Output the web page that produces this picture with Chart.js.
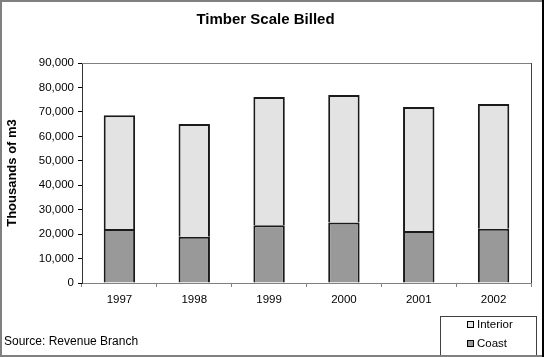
<!DOCTYPE html>
<html>
<head>
<meta charset="utf-8">
<script src="https://cdn.jsdelivr.net/npm/chart.js@4/dist/chart.umd.min.js"></script>
<style>
html,body{margin:0;padding:0;background:#fff;}
#wrap{width:544px;height:357px;position:relative;}
</style>
</head>
<body>
<div id="wrap"><canvas id="c" width="544" height="357"></canvas></div>
<script>
const years = ['1997','1998','1999','2000','2001','2002'];
const coast = [22100, 18900, 23600, 24800, 21300, 22200];
const interiorTotals = [68600, 65000, 76100, 76900, 72000, 73200];
const interior = interiorTotals.map((t, i) => t - coast[i]);
const chartTitle = 'Timber Scale Billed';
const yTitle = 'Thousands of m3';
const sourceNote = 'Source: Revenue Branch';

const FONT = '"Liberation Sans", Arial, sans-serif';

const decor = {
  id: 'decor',
  beforeDraw(chart) {
    const ctx = chart.ctx;
    ctx.save();
    ctx.fillStyle = '#fff';
    ctx.fillRect(0, 0, chart.width, chart.height);
    ctx.restore();
  },
  afterDraw(chart) {
    const ctx = chart.ctx;
    const a = chart.chartArea;
    ctx.save();
    // plot area top and right border
    ctx.lineWidth = 1;
    ctx.strokeStyle = '#808080';
    ctx.beginPath();
    ctx.moveTo(a.left, a.top + 0.5);
    ctx.lineTo(a.right, a.top + 0.5);
    ctx.stroke();
    ctx.strokeStyle = '#404040';
    ctx.beginPath();
    ctx.moveTo(a.right + 0.5, a.top);
    ctx.lineTo(a.right + 0.5, a.bottom);
    ctx.stroke();
    // source note
    ctx.fillStyle = '#000';
    ctx.font = '12px ' + FONT;
    ctx.textBaseline = 'middle';
    ctx.textAlign = 'left';
    ctx.fillText(sourceNote, 4, 342);
    // legend box
    ctx.fillStyle = '#fff';
    ctx.fillRect(440.5, 316.5, 96, 45);
    ctx.strokeStyle = '#404040';
    ctx.lineWidth = 1;
    ctx.strokeRect(440.5, 316.5, 96, 45);
    const items = chart.data.datasets.slice().reverse();
    items.forEach((ds, i) => {
      const y = 324.5 + i * 19;
      ctx.fillStyle = ds.backgroundColor;
      ctx.fillRect(467, y - 3.5, 7, 7);
      ctx.strokeStyle = '#000';
      ctx.strokeRect(467.5, y - 3, 6, 6);
      ctx.fillStyle = '#000';
      ctx.font = '11.5px ' + FONT;
      ctx.textAlign = 'left';
      ctx.textBaseline = 'middle';
      ctx.fillText(ds.label, 477, y);
    });
    // outer frame
    ctx.lineWidth = 2;
    ctx.strokeStyle = '#808080';
    ctx.beginPath();
    ctx.moveTo(543, 1); ctx.lineTo(1, 1); ctx.lineTo(1, 356); ctx.lineTo(543, 356);
    ctx.stroke();
    ctx.strokeStyle = '#000';
    ctx.beginPath();
    ctx.moveTo(543, 0); ctx.lineTo(543, 357);
    ctx.stroke();
    ctx.restore();
  }
};

new Chart(document.getElementById('c'), {
  type: 'bar',
  data: {
    labels: years,
    datasets: [
      { label: 'Coast', data: coast, backgroundColor: '#999999', borderColor: '#1a1a1a', borderWidth: 2, categoryPercentage: 1, barPercentage: 0.42 },
      { label: 'Interior', data: interior, backgroundColor: '#e3e3e3', borderColor: '#1a1a1a', borderWidth: 2, categoryPercentage: 1, barPercentage: 0.42 }
    ]
  },
  options: {
    responsive: false,
    animation: false,
    devicePixelRatio: 1,
    layout: { padding: { left: 0, right: 13, top: 0, bottom: 0 } },
    plugins: {
      legend: { display: false },
      tooltip: { enabled: false },
      title: {
        display: true,
        text: chartTitle,
        color: '#000',
        font: { family: FONT, size: 15, weight: 'bold', lineHeight: 1.2 },
        padding: { top: 11, bottom: 34 }
      }
    },
    scales: {
      x: {
        stacked: true,
        grid: { display: true, drawOnChartArea: false, drawTicks: true, tickLength: 4, color: '#808080', offset: true },
        border: { display: true, color: '#808080', width: 1 },
        ticks: { color: '#000', font: { family: FONT, size: 11.5 }, padding: 6, maxRotation: 0 },
        afterFit(scale) { scale.height = 74; }
      },
      y: {
        stacked: true,
        min: 0, max: 90000,
        grid: { display: true, drawOnChartArea: false, drawTicks: true, tickLength: 4, color: '#000' },
        border: { display: true, color: '#333', width: 1 },
        ticks: {
          stepSize: 10000, color: '#000', padding: 4,
          font: { family: FONT, size: 11.5 },
          callback: v => v.toLocaleString('en-US')
        },
        title: {
          display: true, text: yTitle, color: '#000',
          font: { family: FONT, size: 13, weight: 'bold' },
          padding: { top: 5, bottom: 0 }
        },
        afterFit(scale) { scale.width = 82; }
      }
    }
  },
  plugins: [decor]
});
</script>
</body>
</html>
